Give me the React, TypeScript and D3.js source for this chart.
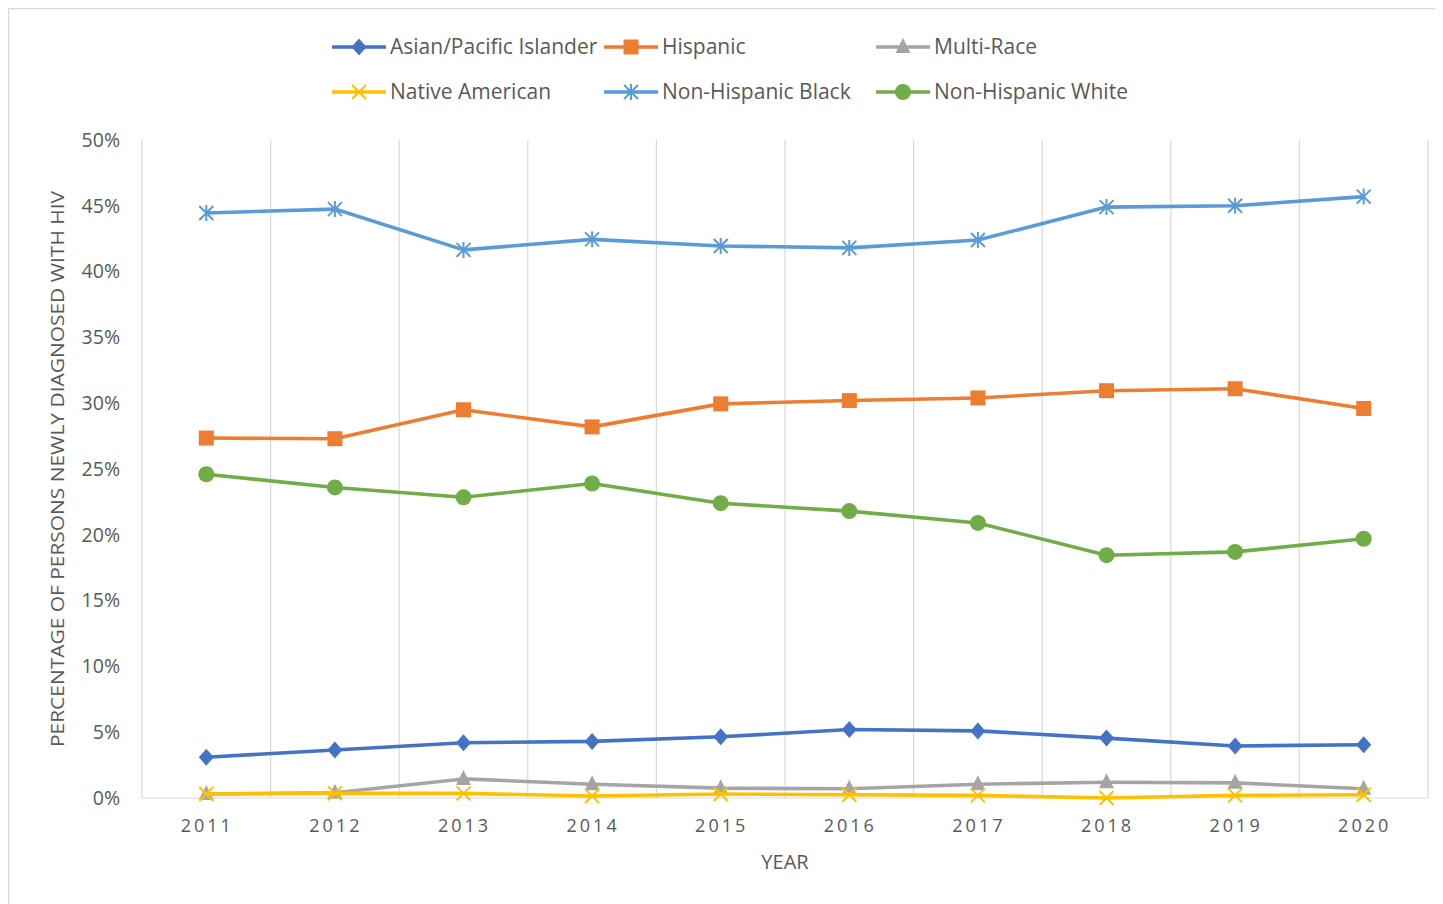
import React from "react";
import * as d3 from "d3";

const years = ["2011", "2012", "2013", "2014", "2015", "2016", "2017", "2018", "2019", "2020"];
const asian = [3.1, 3.65, 4.2, 4.3, 4.65, 5.2, 5.1, 4.55, 3.95, 4.05];
const hispanic = [27.35, 27.3, 29.5, 28.2, 29.95, 30.2, 30.4, 30.95, 31.1, 29.6];
const multiRace = [0.3, 0.4, 1.45, 1.05, 0.75, 0.7, 1.05, 1.2, 1.15, 0.7];
const nativeAm = [0.3, 0.35, 0.35, 0.15, 0.3, 0.25, 0.2, 0.0, 0.2, 0.25];
const black = [44.45, 44.75, 41.65, 42.45, 41.95, 41.8, 42.4, 44.9, 45.0, 45.7];
const white = [24.6, 23.6, 22.85, 23.9, 22.4, 21.8, 20.9, 18.45, 18.7, 19.7];
const yTicks = [0, 5, 10, 15, 20, 25, 30, 35, 40, 45, 50];

type Marker = "diamond" | "square" | "triangle" | "x" | "asterisk" | "circle";
const series: { name: string; values: number[]; color: string; marker: Marker }[] = [
  { name: "Asian/Pacific Islander", values: asian, color: "#4472C4", marker: "diamond" },
  { name: "Hispanic", values: hispanic, color: "#ED7D31", marker: "square" },
  { name: "Multi-Race", values: multiRace, color: "#A5A5A5", marker: "triangle" },
  { name: "Native American", values: nativeAm, color: "#FFC000", marker: "x" },
  { name: "Non-Hispanic Black", values: black, color: "#5B9BD5", marker: "asterisk" },
  { name: "Non-Hispanic White", values: white, color: "#70AD47", marker: "circle" },
];

const FONT = "'Open Sans', 'Noto Sans', sans-serif";
const TXT = "#595959";

function MarkerShape({ type, x, y, color }: { type: Marker; x: number; y: number; color: string }) {
  switch (type) {
    case "diamond":
      return <path d={`M${x},${y - 8.5}L${x + 7.5},${y}L${x},${y + 8.5}L${x - 7.5},${y}Z`} fill={color} />;
    case "square":
      return <rect x={x - 7.5} y={y - 7.5} width={15} height={15} fill={color} />;
    case "triangle":
      return <path d={`M${x},${y - 9}L${x + 7.5},${y + 6}L${x - 7.5},${y + 6}Z`} fill={color} />;
    case "circle":
      return <circle cx={x} cy={y} r={8} fill={color} />;
    case "x":
      return (
        <path d={`M${x - 7},${y - 7}L${x + 7},${y + 7}M${x - 7},${y + 7}L${x + 7},${y - 7}`} stroke={color} strokeWidth={2} fill="none" />
      );
    case "asterisk":
      return (
        <path
          d={`M${x - 7},${y - 7}L${x + 7},${y + 7}M${x - 7},${y + 7}L${x + 7},${y - 7}M${x},${y - 8}L${x},${y + 8}`}
          stroke={color}
          strokeWidth={2}
          fill="none"
        />
      );
  }
}

export default function App() {
  const W = 1435;
  const H = 896;
  const ox = 8, oy = 8; // svg offset on page
  const left = 142 - ox, right = 1428 - ox, top = 140 - oy, bottom = 798 - oy;

  const x = d3.scaleBand<string>().domain(years).range([left, right]);
  const y = d3.scaleLinear().domain([0, 50]).range([bottom, top]);
  const line = d3
    .line<number>()
    .x((_, i) => (x(years[i]) as number) + x.bandwidth() / 2)
    .y((d) => y(d));

  const boundaries = years.map((yr) => x(yr) as number).concat([right]);

  const legendCols = [332 - ox, 604 - ox, 876 - ox];
  const legendRows = [47 - oy, 92 - oy];

  return (
    <svg width={W} height={H} style={{ display: "block" }}>
      <rect x={0} y={0} width={W} height={H} fill="#ffffff" />
      <line x1={0.5} y1={0.5} x2={W} y2={0.5} stroke="#d9d9d9" strokeWidth={1.5} />
      <line x1={0.5} y1={0.5} x2={0.5} y2={H} stroke="#d9d9d9" strokeWidth={1.5} />

      {boundaries.map((bx, i) => (
        <line key={"g" + i} x1={bx} x2={bx} y1={top} y2={bottom} stroke="#d9d9d9" strokeWidth={1.2} />
      ))}
      <line x1={left} x2={right} y1={bottom} y2={bottom} stroke="#d9d9d9" strokeWidth={1.2} />

      {yTicks.map((t) => (
        <text key={"yt" + t} x={120 - ox} y={y(t)} dy="0.35em" textAnchor="end" fontFamily={FONT} fontSize={19.5} fill={TXT}>
          {t}%
        </text>
      ))}
      {years.map((yr) => (
        <text
          key={"xt" + yr}
          x={(x(yr) as number) + x.bandwidth() / 2 + 1}
          y={826 - oy}
          dy="0.35em"
          textAnchor="middle"
          fontFamily={FONT}
          fontSize={18}
          letterSpacing={3}
          fill={TXT}
        >
          {yr}
        </text>
      ))}
      <text x={785 - ox} y={862 - oy} dy="0.35em" textAnchor="middle" fontFamily={FONT} fontSize={20} fill={TXT}>
        YEAR
      </text>
      <text
        transform={`translate(${57 - ox},${469 - oy}) rotate(-90)`}
        dy="0.35em"
        textAnchor="middle"
        fontFamily={FONT}
        fontSize={19}
        fill={TXT}
        textLength={556}
        lengthAdjust="spacingAndGlyphs"
      >
        PERCENTAGE OF PERSONS NEWLY DIAGNOSED WITH HIV
      </text>

      {series.map((s) => (
        <g key={s.name}>
          <path d={line(s.values) || ""} fill="none" stroke={s.color} strokeWidth={3.6} strokeLinejoin="round" />
          {s.values.map((v, i) => (
            <MarkerShape key={i} type={s.marker} x={(x(years[i]) as number) + x.bandwidth() / 2} y={y(v)} color={s.color} />
          ))}
        </g>
      ))}

      {series.map((s, i) => {
        const lx = legendCols[i % 3];
        const ly = legendRows[Math.floor(i / 3)];
        return (
          <g key={"lg" + s.name}>
            <line x1={lx} x2={lx + 54} y1={ly} y2={ly} stroke={s.color} strokeWidth={3.6} />
            <MarkerShape type={s.marker} x={lx + 27} y={ly} color={s.color} />
            <text x={lx + 58} y={ly} dy="0.35em" fontFamily={FONT} fontSize={21} fill={TXT}>
              {s.name}
            </text>
          </g>
        );
      })}
    </svg>
  );
}
